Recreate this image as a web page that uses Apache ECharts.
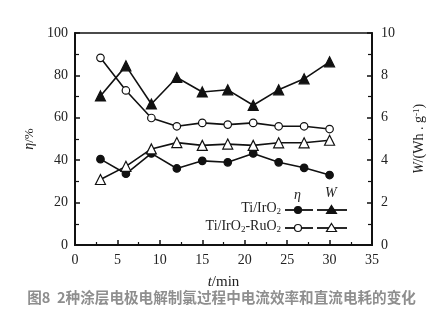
<!DOCTYPE html>
<html>
<head>
<meta charset="utf-8">
<script src="https://cdn.jsdelivr.net/npm/echarts@6/dist/echarts.min.js"></script>
<style>
html,body{margin:0;padding:0;background:#fff;}
#chart{width:443px;height:322px;}
</style>
</head>
<body>
<div id="chart"></div>
<script>
// Sampling times (min)
const times = [3, 6, 9, 12, 15, 18, 21, 24, 27, 30];
// Current efficiency η (%)
const etaIrO2 = [40.5, 33.6, 43.2, 36.1, 39.7, 39.0, 43.2, 39.0, 36.4, 33.0];
const etaIrRu = [88.3, 72.9, 59.9, 56.0, 57.6, 56.8, 57.6, 56.0, 56.0, 54.7];
// DC energy consumption W (Wh·g⁻¹)
const wIrO2 = [7.03, 8.45, 6.65, 7.90, 7.22, 7.32, 6.59, 7.32, 7.84, 8.64];
const wIrRu = [3.09, 3.71, 4.53, 4.83, 4.70, 4.76, 4.70, 4.82, 4.82, 4.94];

const serif = 'Liberation Serif';
const pair = arr => times.map((t, i) => [t, arr[i]]);

const tri = 'path://M5,0 L10,8.6 L0,8.6 Z';

function line(name, data, axis, symbol, size, fill) {
  return {
    name, type: 'line', yAxisIndex: axis, data: pair(data),
    symbol, symbolSize: size, showSymbol: true,
    lineStyle: { color: '#111', width: 1.6 },
    itemStyle: { color: fill, borderColor: '#111', borderWidth: 1.2 },
    z: symbol === 'circle' ? 3 : 4
  };
}

const chart = echarts.init(document.getElementById('chart'), null, { renderer: 'canvas' });

const axisLabel = { fontFamily: serif, fontSize: 14, color: '#222' };

// Hand-drawn legend block inside the plot area
const legendGraphics = [];
function legendRow(y, labelRich, fillCircle, fillTri) {
  legendGraphics.push(
    { type: 'text', right: 443 - 281, top: y - 9, style: { text: labelRich, font: '14px ' + serif, fill: '#222', rich: {
      n: { fontFamily: serif, fontSize: 14, fill: '#222' },
      s: { fontFamily: serif, fontSize: 9, fill: '#222', padding: [8, 0, 0, 0] } } } },
    { type: 'line', shape: { x1: 285, y1: y, x2: 313, y2: y }, style: { stroke: '#111', lineWidth: 1.8 } },
    { type: 'line', shape: { x1: 317, y1: y, x2: 347, y2: y }, style: { stroke: '#111', lineWidth: 1.8 } },
    { type: 'circle', shape: { cx: 298, cy: y, r: 3.5 }, style: { fill: fillCircle, stroke: '#111', lineWidth: 1.2 }, z: 10 },
    { type: 'polygon', shape: { points: [[331.5, y - 4.5], [336.5, y + 3.5], [326.5, y + 3.5]] }, style: { fill: fillTri, stroke: '#111', lineWidth: 1.2 }, z: 10 }
  );
}
legendRow(210, '{n|Ti/IrO}{s|2}', '#111', '#111');
legendRow(228, '{n|Ti/IrO}{s|2}{n|-RuO}{s|2}', '#fff', '#fff');
legendGraphics.push(
  { type: 'text', left: 294, top: 188, style: { text: 'η', font: 'italic 14px ' + serif, fill: '#222' } },
  { type: 'text', left: 325, top: 186, style: { text: 'W', font: 'italic 14px ' + serif, fill: '#222' } },
  { type: 'text', left: 'center', top: 290, style: { text: '图8  2种涂层电极电解制氯过程中电流效率和直流电耗的变化',
      font: 'bold 14.6px "Noto Sans CJK SC"', fill: '#8e8e8e' } }
);

chart.setOption({
  animation: false,
  backgroundColor: '#fff',
  grid: { left: 75, right: 71, top: 33, bottom: 77, show: true, borderColor: '#111', borderWidth: 1.5 },
  xAxis: {
    type: 'value', min: 0, max: 35, interval: 5,
    name: '{i|t}{n|/min}', nameLocation: 'middle', nameGap: 30,
    nameTextStyle: { rich: { i: { fontFamily: serif, fontStyle: 'italic', fontSize: 15, color: '#222' }, n: { fontFamily: serif, fontSize: 15, color: '#222' } } },
    axisLine: { lineStyle: { color: '#111', width: 2 } },
    axisTick: { inside: true, length: 5, lineStyle: { color: '#111', width: 1.5 } },
    minorTick: { show: true, splitNumber: 2, length: 3, lineStyle: { color: '#111', width: 1.2 } },
    splitLine: { show: false },
    axisLabel: Object.assign({ margin: 8 }, axisLabel)
  },
  yAxis: [
    {
      type: 'value', min: 0, max: 100, interval: 20,
      name: '{i|η}{n|/%}', nameLocation: 'middle', nameGap: 38, nameRotate: 90,
      nameTextStyle: { rich: { i: { fontFamily: serif, fontStyle: 'italic', fontSize: 14, color: '#222' }, n: { fontFamily: serif, fontSize: 13, color: '#222' } } },
      axisLine: { show: true, lineStyle: { color: '#111', width: 2 } },
      axisTick: { inside: true, length: 5, lineStyle: { color: '#111', width: 1.5 } },
      minorTick: { show: true, splitNumber: 2, length: 4, lineStyle: { color: '#111', width: 1.2 } },
      splitLine: { show: false },
      axisLabel: Object.assign({ margin: 7 }, axisLabel)
    },
    {
      type: 'value', min: 0, max: 10, interval: 2, position: 'right',
      name: '{i|W}{n|/(Wh . g}{s|-1}{n|)}', nameLocation: 'middle', nameGap: 40, nameRotate: 90,
      nameTextStyle: { rich: {
        i: { fontFamily: serif, fontStyle: 'italic', fontSize: 14, color: '#222' },
        n: { fontFamily: serif, fontSize: 14, color: '#222' },
        s: { fontFamily: serif, fontSize: 9, color: '#222', verticalAlign: 'top', padding: [0, 0, 6, 0] } } },
      axisLine: { show: true, lineStyle: { color: '#111', width: 2 } },
      axisTick: { inside: true, length: 5, lineStyle: { color: '#111', width: 1.5 } },
      minorTick: { show: true, splitNumber: 2, length: 4, lineStyle: { color: '#111', width: 1.2 } },
      splitLine: { show: false },
      axisLabel: Object.assign({ margin: 9 }, axisLabel)
    }
  ],
  series: [
    line('Ti/IrO2 η', etaIrO2, 0, 'circle', 7.5, '#111'),
    line('Ti/IrO2-RuO2 η', etaIrRu, 0, 'circle', 7.5, '#fff'),
    line('Ti/IrO2 W', wIrO2, 1, tri, 10, '#111'),
    line('Ti/IrO2-RuO2 W', wIrRu, 1, tri, 10, '#fff')
  ],
  graphic: legendGraphics
});
</script>
</body>
</html>
